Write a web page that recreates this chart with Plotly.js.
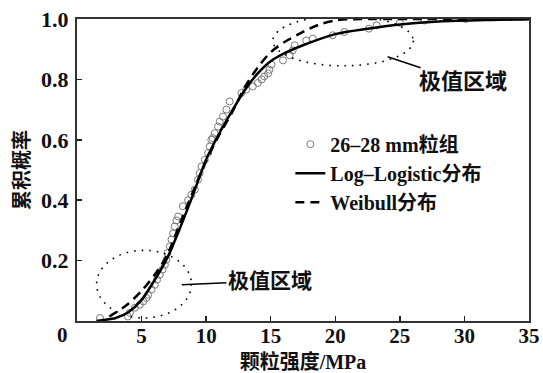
<!DOCTYPE html>
<html>
<head>
<meta charset="utf-8">
<script src="https://cdn.plot.ly/plotly-3.0.1.min.js"></script>
<style>html,body{margin:0;padding:0;background:#fff;}#chart{width:543px;height:373px;}</style>
</head>
<body>
<div id="chart"></div>
<script>
// Observed points (26–28 mm group)
const obsX = [1.78, 3.94, 4.1, 4.48, 4.87, 5.13, 5.38, 5.51, 5.77, 6.03, 6.2, 6.41, 6.62, 6.8, 6.93, 7.0, 7.19, 7.32, 7.44, 7.57, 7.7, 7.83, 8.2, 8.6, 8.86, 9.12, 9.37, 9.5, 9.64, 9.9, 10.15, 10.28, 10.4, 10.5, 10.66, 10.92, 11.05, 11.3, 11.57, 11.82, 12.73, 13.1, 13.62, 14.0, 14.3, 14.5, 14.8, 14.9, 15.05, 15.95, 16.46, 16.7, 16.85, 17.75, 18.26, 19.8, 20.7, 22.6, 23.2, 25.0, 26.9, 30.1];
const obsY = [0.01, 0.015, 0.027, 0.044, 0.054, 0.065, 0.076, 0.087, 0.104, 0.12, 0.137, 0.153, 0.17, 0.186, 0.203, 0.225, 0.247, 0.27, 0.29, 0.313, 0.333, 0.346, 0.38, 0.40, 0.418, 0.435, 0.468, 0.49, 0.512, 0.534, 0.556, 0.578, 0.60, 0.606, 0.622, 0.644, 0.66, 0.677, 0.70, 0.727, 0.755, 0.766, 0.777, 0.788, 0.80, 0.81, 0.82, 0.832, 0.849, 0.863, 0.88, 0.896, 0.913, 0.929, 0.935, 0.946, 0.957, 0.968, 0.979, 0.987, 0.995, 1.0];
// Log-Logistic fitted curve
const llX = [1.5, 2, 3, 4, 5, 6, 7, 8, 9, 10, 11, 12, 13, 14, 15, 16, 17.5, 20, 22.5, 25, 28, 32, 35];
const llY = [0.0, 0.003, 0.01, 0.03, 0.07, 0.135, 0.21, 0.31, 0.42, 0.535, 0.62, 0.695, 0.765, 0.82, 0.86, 0.885, 0.913, 0.95, 0.968, 0.982, 0.992, 0.997, 0.999];
// Weibull fitted curve
const wbX = [2.5, 3, 4, 5, 6, 7, 8, 9, 10, 11, 12, 13, 14, 15, 16, 17, 18, 19, 20, 21, 23, 35];
const wbY = [0.015, 0.028, 0.058, 0.1, 0.152, 0.22, 0.325, 0.43, 0.53, 0.615, 0.69, 0.775, 0.84, 0.89, 0.922, 0.946, 0.968, 0.985, 0.995, 0.999, 1.0, 1.0];
const xTicks = [5, 10, 15, 20, 25, 30, 35];
const yTicks = [0.2, 0.4, 0.6, 0.8, 1.0];
const names = ['26–28 mm粒组', 'Log–Logistic分布', 'Weibull分布'];
const xTitle = '颗粒强度/MPa';
const yTitle = '累积概率';
const noteText = '极值区域';

const FONT = 'Liberation Serif, "Noto Sans CJK SC", serif';

const traces = [
  {x: obsX, y: obsY, name: names[0], mode: 'markers', type: 'scatter',
   marker: {symbol: 'circle-open', size: 7, color: '#7a7a7a', line: {width: 1, color: '#7a7a7a'}}},
  {x: llX, y: llY, name: names[1], mode: 'lines', type: 'scatter',
   line: {color: '#000', width: 2.5, shape: 'spline', smoothing: 0.8}},
  {x: wbX, y: wbY, name: names[2], mode: 'lines', type: 'scatter',
   line: {color: '#000', width: 2.5, dash: '9px,6px', shape: 'spline', smoothing: 0.8}}
];

const layout = {
  width: 543, height: 373,
  margin: {l: 77, r: 14, t: 19, b: 52},
  paper_bgcolor: '#fff', plot_bgcolor: '#fff',
  font: {family: FONT, size: 20, color: '#111', weight: 'bold'},
  showlegend: true,
  legend: {x: 0.472, y: 0.65, xanchor: 'left', yanchor: 'top', bgcolor: 'rgba(0,0,0,0)',
           borderwidth: 0, font: {family: FONT, size: 20, color: '#111', weight: 'bold'},
           tracegroupgap: 0, itemwidth: 30},
  xaxis: {range: [0, 35], tickvals: xTicks, ticks: 'inside', ticklen: 5, tickwidth: 1.5, tickcolor: '#222',
          showline: true, linecolor: '#333', linewidth: 2, mirror: true, showgrid: false, zeroline: false,
          tickfont: {family: FONT, size: 21, weight: 'bold'}, ticklabelstandoff: -5,
          title: {text: xTitle, font: {family: FONT, size: 20, weight: 'bold'}, standoff: 8}},
  yaxis: {range: [0, 1.0], tickvals: yTicks, tickformat: '.1f', ticks: 'inside', ticklen: 5, tickwidth: 1.5, tickcolor: '#222',
          showline: true, linecolor: '#333', linewidth: 2, mirror: true, showgrid: false, zeroline: false,
          tickfont: {family: FONT, size: 22, weight: 'bold'}, ticklabelstandoff: 2,
          title: {text: yTitle, font: {family: FONT, size: 20, weight: 'bold'}, standoff: 6}},
  shapes: [
    {type: 'circle', xref: 'x', yref: 'y', x0: 1.52, x1: 8.86, y0: 0.01, y1: 0.234,
     line: {color: '#000', width: 1.6, dash: '1.6px,6px'}},
    {type: 'circle', xref: 'x', yref: 'y', x0: 15.17, x1: 26.04, y0: 0.845, y1: 1.011,
     line: {color: '#000', width: 1.6, dash: '1.6px,6px'}}
  ],
  annotations: [
    {x: 0, y: 0, xref: 'x', yref: 'y', text: '0', showarrow: false, xshift: -15, yshift: -14,
     font: {family: FONT, size: 21, weight: 'bold'}},
    {x: 8.12, y: 0.12, xref: 'x', yref: 'y', text: noteText, showarrow: true, arrowhead: 0,
     arrowwidth: 1.5, arrowcolor: '#000', ax: 88, ay: -4, font: {family: FONT, size: 21, weight: 'bold'}},
    {x: 24.05, y: 0.875, xref: 'x', yref: 'y', text: noteText, showarrow: true, arrowhead: 0,
     arrowwidth: 1.5, arrowcolor: '#000', ax: 75, ay: 25, font: {family: FONT, size: 22, weight: 'bold'}}
  ]
};

Plotly.newPlot('chart', traces, layout, {displayModeBar: false, staticPlot: true});
</script>
</body>
</html>
